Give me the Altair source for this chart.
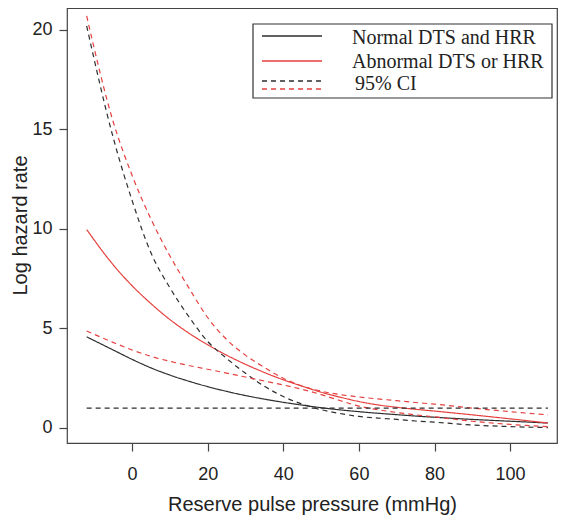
import altair as alt
import pandas as pd

# ---- data ----
x_vals = [-12, -5, 0, 5, 10, 15, 20, 25, 30, 35, 40, 45, 50, 55, 60, 65, 70, 75, 80, 90, 100, 110]

normal = [4.58, 3.92, 3.45, 3.02, 2.66, 2.35, 2.08, 1.84, 1.63, 1.45, 1.29, 1.15, 1.02, 0.91,
          0.82, 0.74, 0.67, 0.60, 0.54, 0.43, 0.34, 0.25]
abnormal = [9.97, 8.20, 7.15, 6.25, 5.45, 4.77, 4.18, 3.66, 3.20, 2.79, 2.42, 2.10, 1.80, 1.55,
            1.33, 1.16, 1.04, 0.94, 0.85, 0.66, 0.46, 0.25]
normal_ci_a = [20.2, 14.6, 11.44, 8.80, 7.05, 5.60, 4.35, 3.50, 2.75, 2.10, 1.58, 1.20, 0.92, 0.73,
               0.58, 0.50, 0.43, 0.35, 0.29, 0.15, 0.07, 0.02]
abnormal_ci_upper = [20.7, 15.4, 12.7, 10.5, 8.65, 7.05, 5.55, 4.45, 3.66, 3.04, 2.50, 2.11, 1.85,
                     1.68, 1.56, 1.46, 1.37, 1.28, 1.20, 1.00, 0.82, 0.66]
abnormal_ci_lower = [4.87, 4.30, 3.92, 3.60, 3.35, 3.14, 2.95, 2.76, 2.56, 2.36, 2.16, 1.94, 1.68,
                     1.38, 1.10, 0.92, 0.78, 0.66, 0.56, 0.34, 0.18, 0.07]
normal_ci_b_x = [-12, 110]
normal_ci_b = [1.0, 1.0]

x_ticks = [0, 20, 40, 60, 80, 100]
y_ticks = [0, 5, 10, 15, 20]

series_names = ["Normal DTS and HRR", "Abnormal DTS or HRR", "Normal CI a", "Normal CI b",
                "Abnormal CI upper", "Abnormal CI lower"]
legend_labels = ["Normal DTS and HRR", "Abnormal DTS or HRR", "95% CI"]

rows = []
for name, ys in [(series_names[0], normal), (series_names[1], abnormal),
                 (series_names[2], normal_ci_a), (series_names[4], abnormal_ci_upper),
                 (series_names[5], abnormal_ci_lower)]:
    for xv, yv in zip(x_vals, ys):
        rows.append({"x": xv, "y": yv, "series": name})
for xv, yv in zip(normal_ci_b_x, normal_ci_b):
    rows.append({"x": xv, "y": yv, "series": series_names[3]})
df = pd.DataFrame(rows)

BLACK = "#2e2e2e"
RED = "#e5403f"
colors = [BLACK, RED, BLACK, BLACK, RED, RED]
dashes = [[1, 0], [1, 0], [5, 4], [5, 4], [5, 4], [5, 4]]

lines = alt.Chart(df).mark_line(strokeWidth=1.2, interpolate="monotone", clip=True).encode(
    x=alt.X("x:Q", scale=alt.Scale(domain=[-17.2, 112.4], nice=False, zero=False),
            axis=alt.Axis(values=x_ticks, title="Reserve pulse pressure (mmHg)",
                          titleY=67, titleBaseline="alphabetic", labelPadding=14)),
    y=alt.Y("y:Q", scale=alt.Scale(domain=[-0.754, 21.1], nice=False, zero=False),
            axis=alt.Axis(values=y_ticks, title="Log hazard rate", titleX=-41,
                          titleY=217, titleBaseline="alphabetic", titleAngle=270,
                          titleAlign="center", labelPadding=7)),
    color=alt.Color("series:N", scale=alt.Scale(domain=series_names, range=colors), legend=None),
    strokeDash=alt.StrokeDash("series:N", scale=alt.Scale(domain=series_names, range=dashes),
                              legend=None),
    detail="series:N",
)

one = alt.Data(values=[{}])

legend_box = alt.Chart(one).mark_rect(fill="white", stroke="#333333", strokeWidth=1.2).encode(
    x=alt.value(186), x2=alt.value(485), y=alt.value(16), y2=alt.value(90))

def leg_rule(yv, color, dash):
    return alt.Chart(one).mark_rule(color=color, strokeWidth=1.3, strokeDash=dash).encode(
        x=alt.value(195), x2=alt.value(255), y=alt.value(yv))

def leg_text(txt, xv, yv):
    return alt.Chart(one).mark_text(text=txt, font="Liberation Serif", fontSize=20,
                                    align="left", baseline="alphabetic", color="#222222").encode(
        x=alt.value(xv), y=alt.value(yv))

layers = [lines, legend_box,
          leg_rule(28, BLACK, [1, 0]), leg_rule(53, RED, [1, 0]),
          leg_rule(73, BLACK, [5, 4]), leg_rule(81, RED, [5, 4]),
          leg_text(legend_labels[0], 285, 36), leg_text(legend_labels[1], 285, 60),
          leg_text(legend_labels[2], 288, 82)]

chart = alt.layer(*layers).properties(
    width=490, height=435,
    autosize=alt.AutoSizeParams(type="none"),
    padding={"left": 59, "top": 0, "right": 1, "bottom": 72},
).configure_view(
    stroke="#444444", strokeWidth=1.2
).configure_axis(
    grid=False, domain=False, ticks=True, tickSize=8, tickColor="#444444", tickWidth=1.2,
    labelFont="Liberation Sans", labelFontSize=18, labelColor="#222222",
    titleFont="Liberation Sans", titleFontSize=20, titleColor="#222222", titleFontWeight="normal",
)

chart.save("out.html", embed_options={"renderer": "svg", "actions": False})
